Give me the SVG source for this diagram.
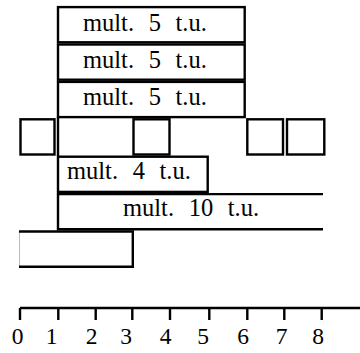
<svg xmlns="http://www.w3.org/2000/svg" width="360" height="353" viewBox="0 0 360 353">
  <style>
    .box { fill: #fff; stroke: #000; stroke-width: 2.4; }
    .edge { fill: none; stroke: #000; stroke-width: 2.4; }
    text { font-family: "Liberation Serif", "Times New Roman", serif; fill: #000; }
    .lbl { font-size: 24.5px; word-spacing: 8.5px; }
    .num { font-size: 23.5px; text-anchor: middle; }
  </style>

  <!-- three 5-unit multiplications, stacked -->
  <g id="mult5-a">
    <rect class="box" x="58" y="7.1" width="186.7" height="35.2"/>
    <text class="lbl" x="83" y="31">mult. 5 t.u.</text>
  </g>
  <g id="mult5-b">
    <rect class="box" x="58" y="44.5" width="186.7" height="35.2"/>
    <text class="lbl" x="83" y="68">mult. 5 t.u.</text>
  </g>
  <g id="mult5-c">
    <rect class="box" x="58" y="81.9" width="186.7" height="35.2"/>
    <text class="lbl" x="83" y="105">mult. 5 t.u.</text>
  </g>

  <!-- row of unit slots -->
  <g id="slot-0">
    <rect class="box" x="20.5" y="119.3" width="34" height="35.2"/>
  </g>
  <g id="slot-1">
    <line class="edge" x1="58" y1="117" x2="58" y2="156"/>
  </g>
  <g id="slot-3">
    <rect class="box" x="133.5" y="119.3" width="36" height="35.2"/>
  </g>
  <g id="slot-6">
    <rect class="box" x="247.3" y="119.3" width="35.7" height="35.2"/>
  </g>
  <g id="slot-7">
    <rect class="box" x="287" y="119.3" width="37.3" height="35.2"/>
  </g>

  <!-- 4-unit multiplication -->
  <g id="mult4">
    <rect class="box" x="58" y="156.7" width="149.7" height="35.2"/>
    <text class="lbl" x="67" y="179">mult. 4 t.u.</text>
  </g>

  <!-- 10-unit multiplication, open to the right -->
  <g id="mult10">
    <path class="edge" d="M323,194.1 H58 V229.3 H323"/>
    <text class="lbl" x="123" y="216">mult. 10 t.u.</text>
  </g>

  <!-- open slot 0..3 -->
  <g id="slot-0-3">
    <line x1="19.5" y1="231.5" x2="19.5" y2="266.7" stroke="#bbb" stroke-width="1"/>
    <path class="edge" d="M19,231.5 H132.8 V266.7 H19"/>
  </g>

  <!-- time axis -->
  <g id="axis">
    <path class="edge" d="M20,308 H360 M20,308 V320 M58.3,308 V320 M95.7,308 V320 M132.3,308 V320 M170,308 V320 M209.3,308 V320 M247.3,308 V320 M284.3,308 V320 M321.7,308 V320"/>
    <text class="num" x="17.5" y="344">0</text>
    <text class="num" x="51.7" y="344">1</text>
    <text class="num" x="91.7" y="344">2</text>
    <text class="num" x="126" y="344">3</text>
    <text class="num" x="165.7" y="344">4</text>
    <text class="num" x="203" y="344">5</text>
    <text class="num" x="243" y="344">6</text>
    <text class="num" x="281.7" y="344">7</text>
    <text class="num" x="318" y="344">8</text>
  </g>
</svg>
